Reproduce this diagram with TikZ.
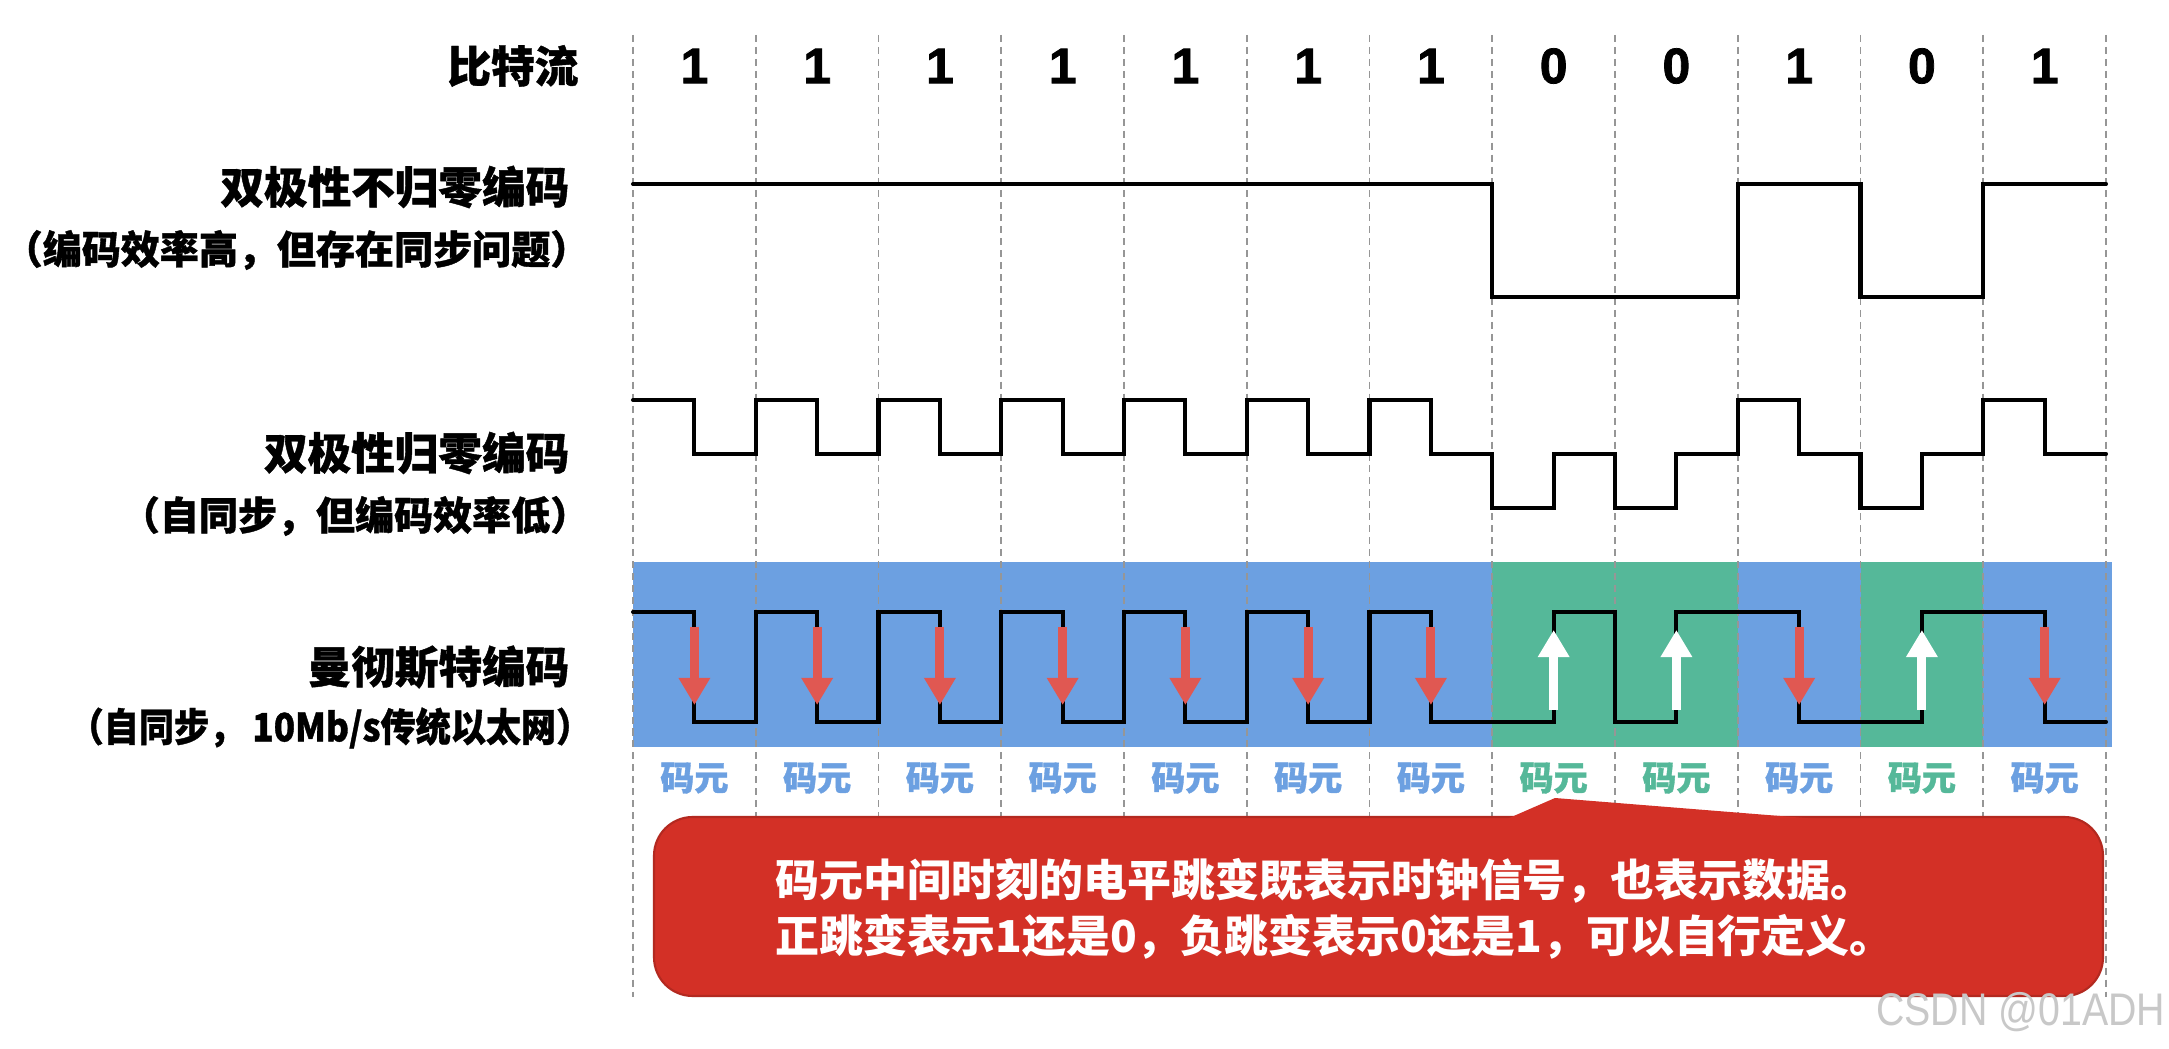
\documentclass[tikz,border=0pt]{standalone}
\usepackage{fontspec}
\setmainfont{Noto Sans CJK SC}[BoldFont={Noto Sans CJK SC Black}]
\newfontfamily\heavyfont{Noto Sans CJK SC Black}[FakeBold=1]
\newfontfamily\digitfont{Liberation Sans}[BoldFeatures={FakeBold=1.5}]
\newfontfamily\wmfont{Liberation Sans}
\usetikzlibrary{arrows.meta}
\definecolor{mblue}{RGB}{108,160,225}
\definecolor{mgreen}{RGB}{85,184,153}
\definecolor{mred}{RGB}{224,88,82}
\definecolor{callred}{RGB}{211,48,38}
\definecolor{gridgray}{RGB}{150,150,150}
\definecolor{wmgray}{RGB}{200,200,200}
\begin{document}
\begin{tikzpicture}[x=0.01cm,y=-0.01cm,
  wave/.style={line width=1.15pt, line join=miter, line cap=round},
  gridline/.style={gridgray, line width=0.45pt, dash pattern=on 2pt off 1.4pt},
  lbltitle/.style={font=\heavyfont\fontsize{12.4}{15}\selectfont, anchor=east, inner sep=0pt},
  lblsub/.style={font=\heavyfont\fontsize{11.1}{13}\selectfont, anchor=east, inner sep=0pt},
  bitlabel/.style={font=\digitfont\bfseries\fontsize{14.2}{16}\selectfont, inner sep=0pt},
  symlabel/.style={font=\heavyfont\fontsize{9.7}{11}\selectfont, inner sep=0pt},
  downarr/.style={mred, line width=2.6pt, -{Triangle[width=8.5pt,length=7.7pt]}},
  uparr/.style={white, line width=2.6pt, -{Triangle[width=8.5pt,length=7.7pt]}},
  calltext/.style={font=\bfseries\fontsize{12.5}{15}\selectfont, text=white, anchor=west, inner sep=0pt}
]
\useasboundingbox (0,0) rectangle (2169,1049);
\fill[white] (0,0) rectangle (2169,1049);

% Manchester background
\fill[mblue] (633,562) rectangle (2112,747);
\fill[mgreen] (1492.25,562) rectangle (1737.75,747);
\fill[mgreen] (1860.5,562) rectangle (1983.25,747);

% dashed grid
\foreach \k in {0,...,12} {
  \draw[gridline] ({633+122.75*\k},35) -- ({633+122.75*\k},997);
}

% left labels
\node[lbltitle] (lbits) at (579,66) {比特流};
\node[lbltitle] (lnrz) at (570,187) {双极性不归零编码};
\node[lblsub] (lnrzs) at (590,250) {（编码效率高，但存在同步问题）};
\node[lbltitle] (lrz) at (570,453) {双极性归零编码};
\node[lblsub] (lrzs) at (590,516) {（自同步，但编码效率低）};
\node[lbltitle] (lman) at (570,667) {曼彻斯特编码};
\node[lblsub] (lmans) at (592,728) {\scalebox{0.9}[1]{（自同步， 10Mb/s传统以太网）}};

% bits
\foreach \k/\b in {0/1,1/1,2/1,3/1,4/1,5/1,6/1,7/0,8/0,9/1,10/0,11/1} {
  \node[bitlabel] (bit\k) at ({694.4+122.75*\k},66) {\b};
}

% NRZ
\draw[wave] (633,184) -- (1492.25,184) -- (1492.25,297) -- (1737.75,297) -- (1737.75,184)
  -- (1860.5,184) -- (1860.5,297) -- (1983.25,297) -- (1983.25,184) -- (2106,184);

% RZ
\draw[wave] (633,400) -- (694.4,400) -- (694.4,454) -- (755.75,454) -- (755.75,400)
  -- (817.1,400) -- (817.1,454) -- (878.5,454) -- (878.5,400)
  -- (939.9,400) -- (939.9,454) -- (1001.25,454) -- (1001.25,400)
  -- (1062.6,400) -- (1062.6,454) -- (1124,454) -- (1124,400)
  -- (1185.4,400) -- (1185.4,454) -- (1246.75,454) -- (1246.75,400)
  -- (1308.1,400) -- (1308.1,454) -- (1369.5,454) -- (1369.5,400)
  -- (1430.9,400) -- (1430.9,454) -- (1492.25,454)
  -- (1492.25,508) -- (1553.6,508) -- (1553.6,454) -- (1615,454)
  -- (1615,508) -- (1676.4,508) -- (1676.4,454) -- (1737.75,454)
  -- (1737.75,400) -- (1799.1,400) -- (1799.1,454) -- (1860.5,454)
  -- (1860.5,508) -- (1921.9,508) -- (1921.9,454) -- (1983.25,454)
  -- (1983.25,400) -- (2044.6,400) -- (2044.6,454) -- (2106,454);

% Manchester
\draw[wave] (633,612) -- (694.4,612) -- (694.4,722) -- (755.75,722) -- (755.75,612)
  -- (817.1,612) -- (817.1,722) -- (878.5,722) -- (878.5,612)
  -- (939.9,612) -- (939.9,722) -- (1001.25,722) -- (1001.25,612)
  -- (1062.6,612) -- (1062.6,722) -- (1124,722) -- (1124,612)
  -- (1185.4,612) -- (1185.4,722) -- (1246.75,722) -- (1246.75,612)
  -- (1308.1,612) -- (1308.1,722) -- (1369.5,722) -- (1369.5,612)
  -- (1430.9,612) -- (1430.9,722) -- (1553.6,722)
  -- (1553.6,612) -- (1615,612) -- (1615,722)
  -- (1676.4,722) -- (1676.4,612) -- (1799.1,612)
  -- (1799.1,722) -- (1921.9,722)
  -- (1921.9,612) -- (2044.6,612)
  -- (2044.6,722) -- (2106,722);

% arrows
\foreach \k in {0,1,2,3,4,5,6,9,11} {
  \draw[downarr] ({694.4+122.75*\k},627) -- ({694.4+122.75*\k},705);
}
\foreach \k in {7,8,10} {
  \draw[uparr] ({694.4+122.75*\k},710) -- ({694.4+122.75*\k},630);
}

% symbol labels
\foreach \k/\c in {0/mblue,1/mblue,2/mblue,3/mblue,4/mblue,5/mblue,6/mblue,7/mgreen,8/mgreen,9/mblue,10/mgreen,11/mblue} {
  \node[symlabel, text=\c] (sym\k) at ({694.4+122.75*\k},778) {码元};
}

% callout
\fill[callred, draw=callred!85!black, line width=0.6pt, rounded corners=11pt] (654,817) rectangle (2103,996);
\fill[callred] (1500,822) -- (1555,798) -- (1855,822) -- cycle;
\node[calltext] (c1) at (775,881) {码元中间时刻的电平跳变既表示时钟信号，也表示数据。};
\node[calltext] (c2) at (775,937) {正跳变表示1还是0，负跳变表示0还是1，可以自行定义。};

% watermark
\node[font=\wmfont\fontsize{13}{15}\selectfont, text=wmgray, anchor=east, inner sep=0pt] (wm) at (2166,1012) {\scalebox{0.86}[1]{CSDN @01ADH}};
\end{tikzpicture}
\end{document}
